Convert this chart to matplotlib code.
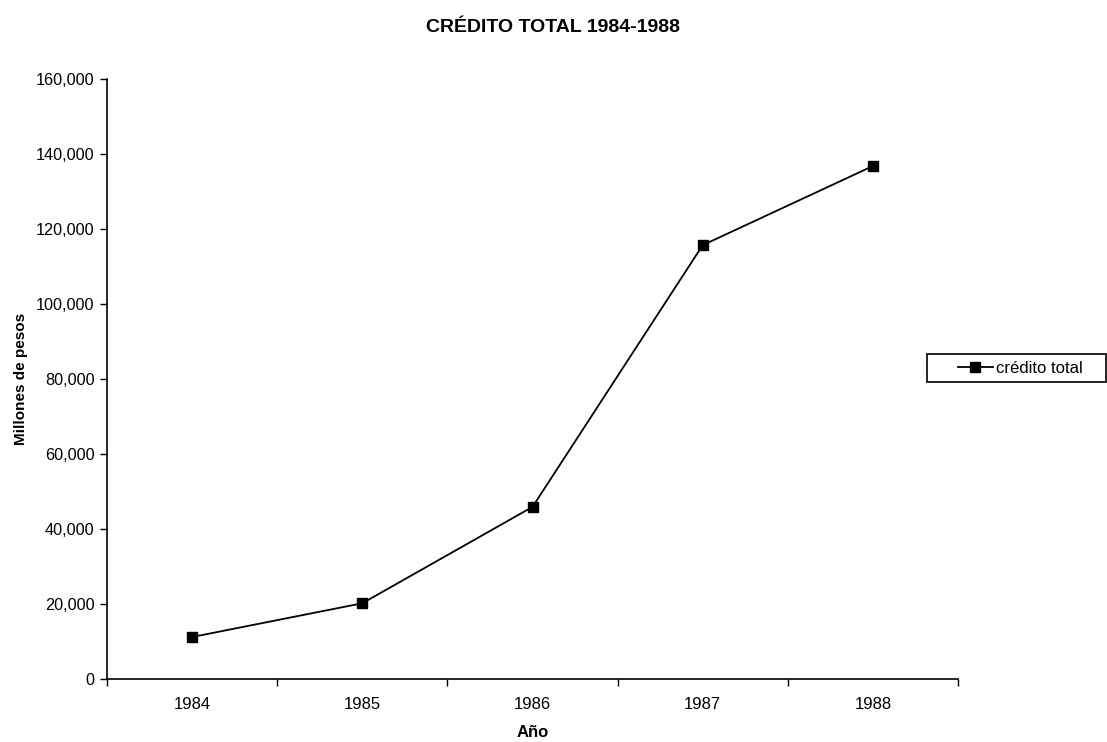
import matplotlib
matplotlib.use("Agg")
import matplotlib.pyplot as plt
from matplotlib.patches import Rectangle
from matplotlib.ticker import FuncFormatter, FixedLocator

plt.rcParams["font.family"] = ["Liberation Sans", "DejaVu Sans"]

# Crédito total, millones de pesos
years = ["1984", "1985", "1986", "1987", "1988"]
credito_total = [11200, 20200, 45900, 115700, 136800]

fig = plt.figure(figsize=(11.07, 7.42), dpi=100)
ax = fig.add_axes([0.0967, 0.0849, 0.7687, 0.8086])

x = list(range(len(years)))
ax.plot(x, credito_total, color="black", linewidth=1.3, marker="s",
        markersize=7, label="crédito total")

ax.set_xlim(-0.5, len(years) - 0.5)
ax.set_ylim(0, 160000)
ax.set_yticks(range(0, 160001, 20000))
ax.yaxis.set_major_formatter(FuncFormatter(lambda v, _: f"{int(v):,}"))

ax.set_xticks(x)
ax.set_xticklabels(years)
ax.xaxis.set_minor_locator(FixedLocator([i - 0.5 for i in range(len(years) + 1)]))
ax.tick_params(axis="x", which="major", length=0, pad=13, labelsize=12)
ax.tick_params(axis="x", which="minor", length=5, width=1, direction="out")
ax.tick_params(axis="y", length=5, width=1, direction="out", labelsize=11.7, pad=4)

for side in ["top", "right"]:
    ax.spines[side].set_visible(False)
for side in ["left", "bottom"]:
    ax.spines[side].set_linewidth(1.2)

ax.set_xlabel("Año", fontsize=12, fontweight="bold", labelpad=9)
ax.set_ylabel("Millones de pesos", fontsize=11, fontweight="bold", labelpad=6)
fig.suptitle("CRÉDITO TOTAL 1984-1988", fontsize=14, fontweight="bold", y=0.975)

# legend box drawn separately: it is wider than the entry itself
leg = fig.legend(loc="center", bbox_to_anchor=(0.9215, 0.504), fontsize=12,
                 frameon=False, handlelength=2.1, handletextpad=0.2)
fig.patches.append(Rectangle((0.8374, 0.4852), 0.1614, 0.0377,
                             transform=fig.transFigure, fill=False,
                             edgecolor="black", linewidth=1.2))

fig.savefig("out.png", dpi=100)
